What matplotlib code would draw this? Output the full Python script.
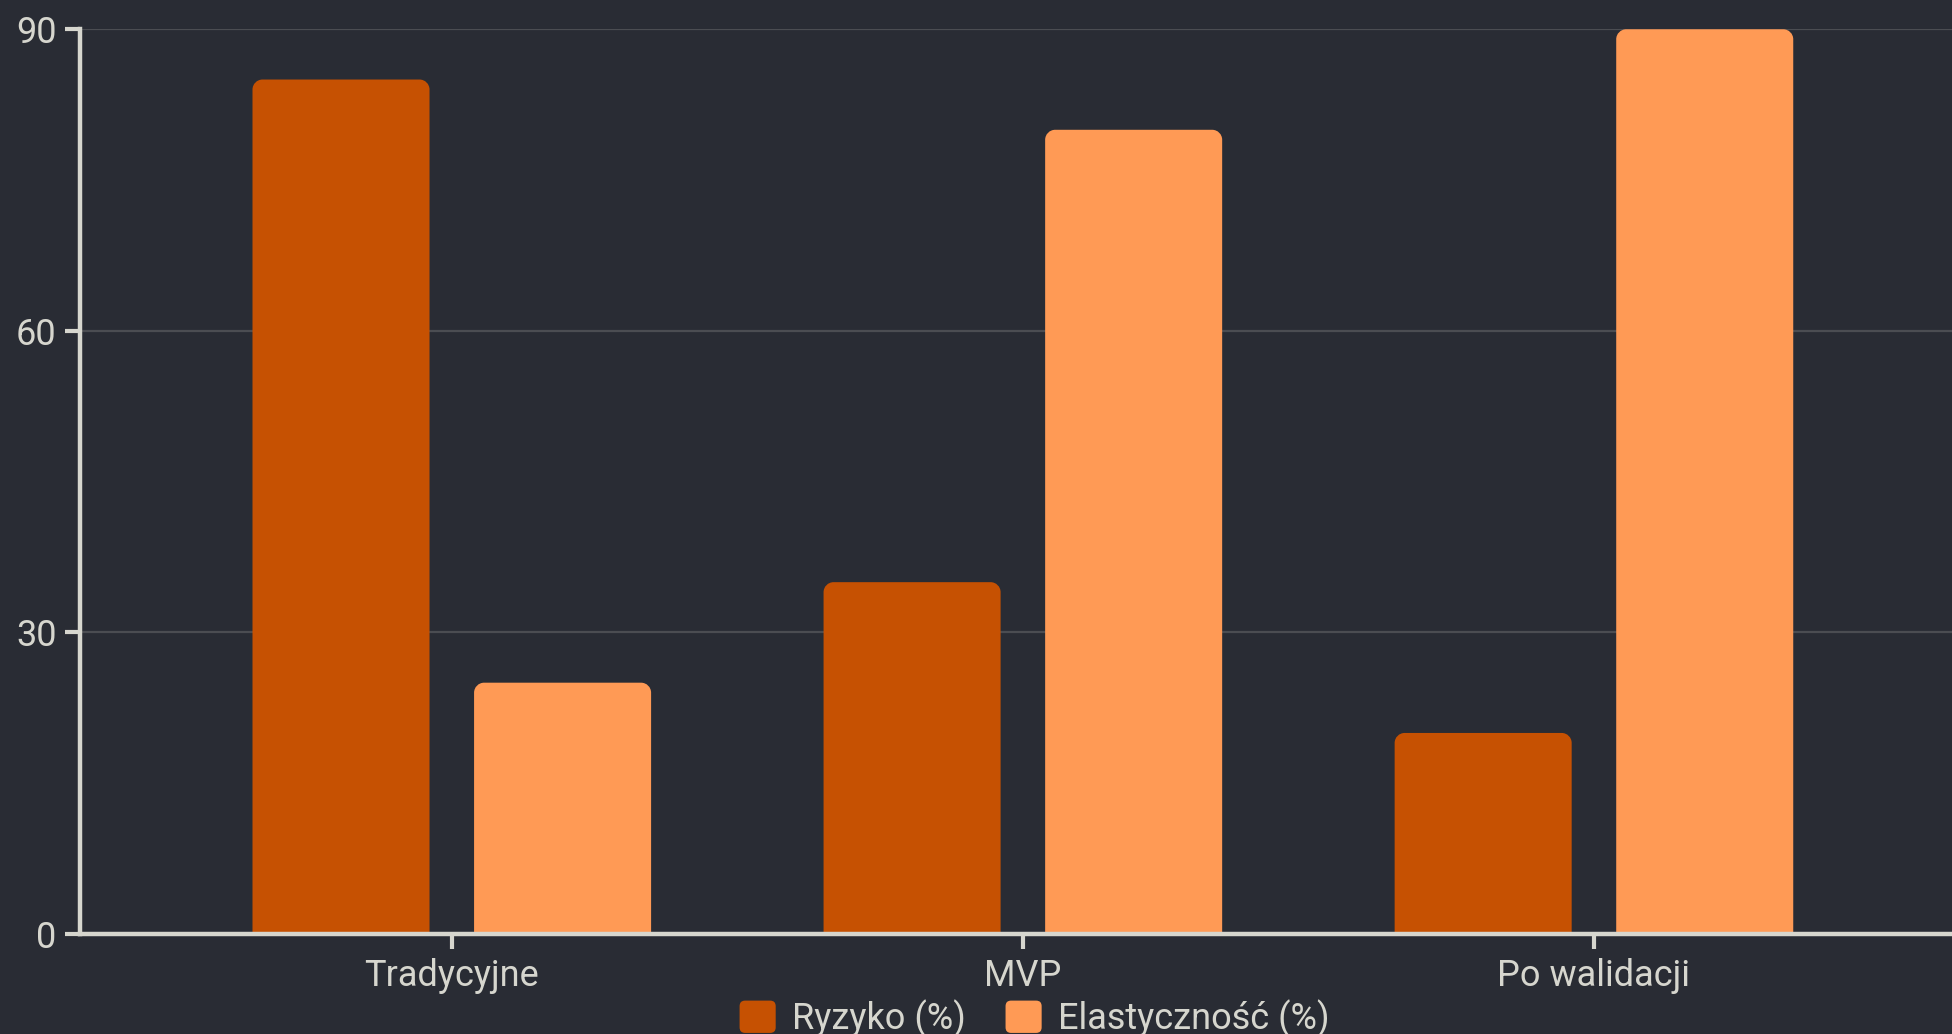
import numpy as np
import matplotlib
matplotlib.use("Agg")
import matplotlib.pyplot as plt
from matplotlib.path import Path
from matplotlib.patches import PathPatch, FancyBboxPatch
from matplotlib.legend_handler import HandlerPatch

# data
categories = ["Tradycyjne", "MVP", "Po walidacji"]
ryzyko = [85, 35, 20]
elastycznosc = [25, 80, 90]
series_labels = ["Ryzyko (%)", "Elastyczność (%)"]
y_ticks = [0, 30, 60, 90]

# style
bg = "#292c34"
c_dark = "#c65102"
c_light = "#ff9a55"
fg = "#d6d6ce"
grid_c = "#4b4d52"

plt.rcParams["font.family"] = ["Roboto", "DejaVu Sans"]

fig = plt.figure(figsize=(19.52, 10.34), dpi=100, facecolor=bg)
ax = fig.add_axes([0.041, 0.0967, 0.959, 0.875], facecolor=bg)

x = np.arange(len(categories))
width = 0.31
offset = 0.194

ax.set_xlim(-0.651, 2.627)
ax.set_ylim(0, 90)


def rounded_bar(ax, xc, h, w, color, r_px=10):
    # rounded top corners, radius given in pixels
    px_x = ax.transData.transform((1, 0))[0] - ax.transData.transform((0, 0))[0]
    px_y = ax.transData.transform((0, 1))[1] - ax.transData.transform((0, 0))[1]
    rx, ry = r_px / px_x, r_px / px_y
    x0, x1 = xc - w / 2, xc + w / 2
    k = 0.5523
    verts = [(x0, 0), (x0, h - ry),
             (x0, h - ry + k * ry), (x0 + rx - k * rx, h), (x0 + rx, h),
             (x1 - rx, h),
             (x1 - rx + k * rx, h), (x1, h - ry + k * ry), (x1, h - ry),
             (x1, 0), (x0, 0)]
    codes = [Path.MOVETO, Path.LINETO,
             Path.CURVE4, Path.CURVE4, Path.CURVE4,
             Path.LINETO,
             Path.CURVE4, Path.CURVE4, Path.CURVE4,
             Path.LINETO, Path.CLOSEPOLY]
    ax.add_patch(PathPatch(Path(verts, codes), facecolor=color, edgecolor="none", zorder=3))


for i in range(len(categories)):
    rounded_bar(ax, x[i] - offset, ryzyko[i], width, c_dark)
    rounded_bar(ax, x[i] + offset, elastycznosc[i], width, c_light)

# grid and axes
ax.set_yticks(y_ticks)
ax.yaxis.grid(True, color=grid_c, linewidth=1.6, zorder=0)
ax.set_axisbelow(True)
ax.set_xticks(x)
ax.set_xticklabels(categories)

for s in ["top", "right"]:
    ax.spines[s].set_visible(False)
for s in ["left", "bottom"]:
    ax.spines[s].set_color(fg)
    ax.spines[s].set_linewidth(3.2)
    ax.spines[s].set_zorder(4)

ax.tick_params(axis="both", colors=fg, labelcolor=fg, labelsize=26, width=3.0, length=11)
ax.tick_params(axis="y", pad=6)
ax.tick_params(axis="x", pad=6)


class RoundHandler(HandlerPatch):
    def create_artists(self, legend, orig_handle, xdescent, ydescent, width, height, fontsize, trans):
        p = FancyBboxPatch((-xdescent, -ydescent), width, height,
                           boxstyle="round,pad=0,rounding_size=4",
                           facecolor=orig_handle.get_facecolor(), edgecolor="none", transform=trans)
        return [p]


handles = [plt.Rectangle((0, 0), 1, 1, facecolor=c_dark),
           plt.Rectangle((0, 0), 1, 1, facecolor=c_light)]
fig.legend(handles, series_labels, loc="center", bbox_to_anchor=(0.53, 0.015),
           ncol=2, frameon=False, fontsize=26, labelcolor=fg,
           handlelength=1.0, handleheight=1.0, handletextpad=0.45, columnspacing=1.1,
           handler_map={plt.Rectangle: RoundHandler()})

plt.savefig("out.png", dpi=100, facecolor=bg)
